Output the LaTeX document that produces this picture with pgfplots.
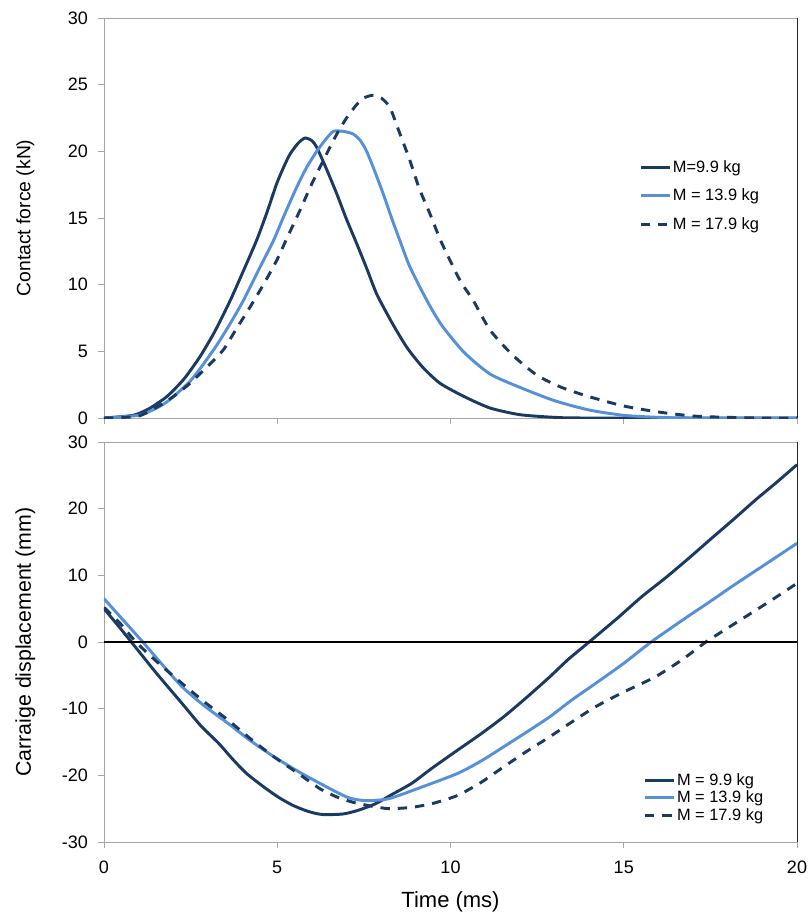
\documentclass[border=0pt]{standalone}
\usepackage{fontspec}
\setmainfont{Liberation Sans}
\usepackage{pgfplots}
\pgfplotsset{compat=1.18}

\definecolor{darkb}{HTML}{1B3A63}
\definecolor{lightb}{HTML}{5590D9}

\pgfplotsset{
  common/.style={
    scale only axis,
    width=519.75pt, height=300pt,
    xmin=0, xmax=20,
    xtick={0,5,10,15,20},
    xtick pos=bottom, ytick pos=left,
    axis line style={gray!70},
    tick style={gray!70, line width=0.6pt},
    tick align=outside,
    major tick length=4.5pt,
    /pgf/number format/assume math mode=true,
    tick label style={font=\fontsize{13.5}{15}\selectfont},
    yticklabel style={xshift=-4pt},
    xticklabel style={yshift=-6pt},
    every axis y label/.style={at={(rel axis cs:0,0.5)}, xshift=-59pt, rotate=90, anchor=center},
    every axis x label/.style={at={(rel axis cs:0.5,0)}, yshift=-45pt, anchor=center},
    label style={font=\fontsize{14.5}{16}\selectfont},
    legend cell align=left,
    legend style={draw=none, fill=none, inner xsep=0pt, inner ysep=0pt,
      nodes={inner xsep=1pt}, font=\fontsize{12.3}{14}\selectfont},
    legend image code/.code={\draw[##1] (0pt,0pt) -- (22pt,0pt);},
    after end axis/.code={\draw[black!85, line width=0.6pt] (rel axis cs:1,0) -- (rel axis cs:1,1);},
  },
  s9/.style={color=darkb, line width=2.2pt, smooth, tension=0.4},
  s13/.style={color=lightb, line width=2.2pt, smooth, tension=0.4},
  s17/.style={color=darkb, line width=2.2pt, dash pattern=on 7pt off 6pt, smooth, tension=0.4},
}

\begin{document}
\begin{tikzpicture}
\useasboundingbox (0pt,0pt) rectangle (607.5pt,-684.75pt);

% contact force
\begin{axis}[common,
  at={(78pt,-313.5pt)}, anchor=south west,
  ymin=0, ymax=30, ytick={0,5,10,15,20,25,30},
  xticklabels={},
  ylabel={Contact force (kN)},
  legend style={at={(0.772,0.652)}, anchor=north west, row sep=7pt},
]
\addplot[s9] coordinates {
(0,0) (0.84,0.2) (1.3,0.7) (1.81,1.6) (2.3,2.9) (2.77,4.6) (3.2,6.5) (3.64,8.8) (4.0,10.9) (4.4,13.3)
(4.7,15.4) (4.98,17.55) (5.2,18.9) (5.37,19.8) (5.6,20.6) (5.8,21.0) (6.0,20.8) (6.14,20.3)
(6.4,18.8) (6.72,16.8) (7.0,14.9) (7.29,13.1) (7.6,11.1) (7.87,9.3) (8.3,7.2) (8.74,5.3)
(9.2,3.8) (9.70,2.6) (10.4,1.6) (11.14,0.75) (12,0.25) (13,0.05) (14,0) (20,0)
};
\addplot[s13] coordinates {
(0,0) (1.0,0.2) (1.4,0.6) (1.81,1.2) (2.5,2.8) (3.16,5.1) (3.6,6.9) (4.02,8.8) (4.5,11.3)
(4.89,13.3) (5.2,15.2) (5.56,17.3) (5.85,18.8) (6.14,20.0) (6.4,20.9) (6.62,21.5) (6.9,21.5)
(7.19,21.3) (7.4,20.8) (7.58,20.0) (7.8,18.6) (8.06,16.8) (8.3,15.0) (8.54,13.3) (8.8,11.5)
(9.12,9.8) (9.45,8.2) (9.79,6.8) (10.4,4.9) (11.14,3.3) (12,2.3) (13,1.3) (14,0.6) (15,0.2)
(16,0.05) (17,0) (20,0)
};
\addplot[s17] coordinates {
(0,0) (1.0,0.15) (1.71,1.1) (2.1,1.8) (2.48,2.6) (3.0,3.9) (3.44,5.1) (3.8,6.6) (4.21,8.3)
(4.6,10.0) (4.98,11.8) (5.3,13.6) (5.66,15.6) (5.95,17.3) (6.23,18.8) (6.5,20.2) (6.72,21.3)
(7.0,22.5) (7.29,23.5) (7.5,24.0) (7.75,24.2) (8.0,24.0) (8.25,23.3) (8.5,21.6) (8.83,19.3)
(9.1,17.2) (9.41,15.3) (9.7,13.4) (9.99,11.8) (10.3,10.2) (10.66,8.8) (11.14,6.6) (11.8,4.7)
(12.5,3.2) (13.2,2.3) (14,1.6) (15,0.9) (16,0.45) (17,0.15) (18,0.05) (19,0) (20,0)
};
\legend{M=9.9 kg, M = 13.9 kg, M = 17.9 kg}
\end{axis}

% carriage displacement
\begin{axis}[common,
  at={(78pt,-631.5pt)}, anchor=south west,
  ymin=-30, ymax=30, ytick={-30,-20,-10,0,10,20,30},
  xlabel={Time (ms)},
  ylabel={Carraige displacement (mm)},
  xlabel style={font=\fontsize{16.5}{18}\selectfont},
  ylabel style={font=\fontsize{16}{18}\selectfont},
  legend style={at={(0.778,0.178)}, anchor=north west, row sep=-1.5pt},
]
\addplot[s9] coordinates {
(0,5.0) (0.4,2.5) (0.79,0) (1.5,-4.6) (2.25,-9.2) (2.8,-12.6) (3.31,-15.2) (3.7,-17.5)
(4.11,-19.7) (4.6,-21.7) (5.04,-23.3) (5.45,-24.5) (5.83,-25.3) (6.1,-25.7) (6.36,-25.9)
(6.89,-25.8) (7.3,-25.3) (7.82,-24.3) (8.3,-22.9) (8.88,-21.2) (9.5,-18.8) (10.21,-16.2)
(10.9,-13.7) (11.54,-11.2) (12.2,-8.3) (12.87,-5.2) (13.4,-2.6) (14.0,0) (14.8,3.5)
(15.52,6.8) (16.2,9.6) (16.84,12.4) (17.5,15.4) (18.17,18.4) (18.8,21.3) (19.4,23.9) (20.0,26.6)
};
\addplot[s13] coordinates {
(0,6.5) (0.5,3.6) (1.12,0) (1.7,-3.5) (2.25,-6.7) (2.9,-9.6) (3.58,-12.2) (4.2,-14.7)
(4.90,-17.2) (5.6,-19.4) (6.23,-21.2) (7.03,-23.3) (7.56,-23.8) (8.22,-23.5) (9.15,-21.8)
(10.21,-19.7) (10.9,-17.8) (11.54,-15.7) (12.2,-13.5) (12.87,-11.2) (13.5,-8.7) (14.19,-6.2)
(15.0,-3.2) (15.79,0) (16.84,3.8) (17.5,6.1) (18.17,8.5) (19.1,11.7) (20.0,14.8)
};
\addplot[s17] coordinates {
(0,5.2) (0.5,2.6) (0.92,0) (1.6,-3.3) (2.25,-6.2) (2.9,-9.0) (3.58,-11.7) (4.2,-14.4)
(4.90,-17.2) (5.6,-19.7) (6.23,-22.0) (6.7,-23.2) (7.16,-24.0) (7.7,-24.6) (8.22,-25.0)
(8.88,-24.8) (9.5,-24.2) (10.21,-23.0) (10.9,-21.0) (11.54,-18.7) (12.2,-16.4) (12.87,-14.2)
(13.5,-12.0) (14.19,-9.7) (15.0,-7.5) (15.92,-5.2) (16.7,-2.6) (17.37,0) (18.0,2.1)
(18.70,4.4) (19.3,6.4) (20.0,8.8)
};
\legend{M = 9.9 kg, M = 13.9 kg, M = 17.9 kg}
\draw[black, line width=0.9pt] (axis cs:0,0) -- (axis cs:20,0);
\end{axis}
\end{tikzpicture}
\end{document}
